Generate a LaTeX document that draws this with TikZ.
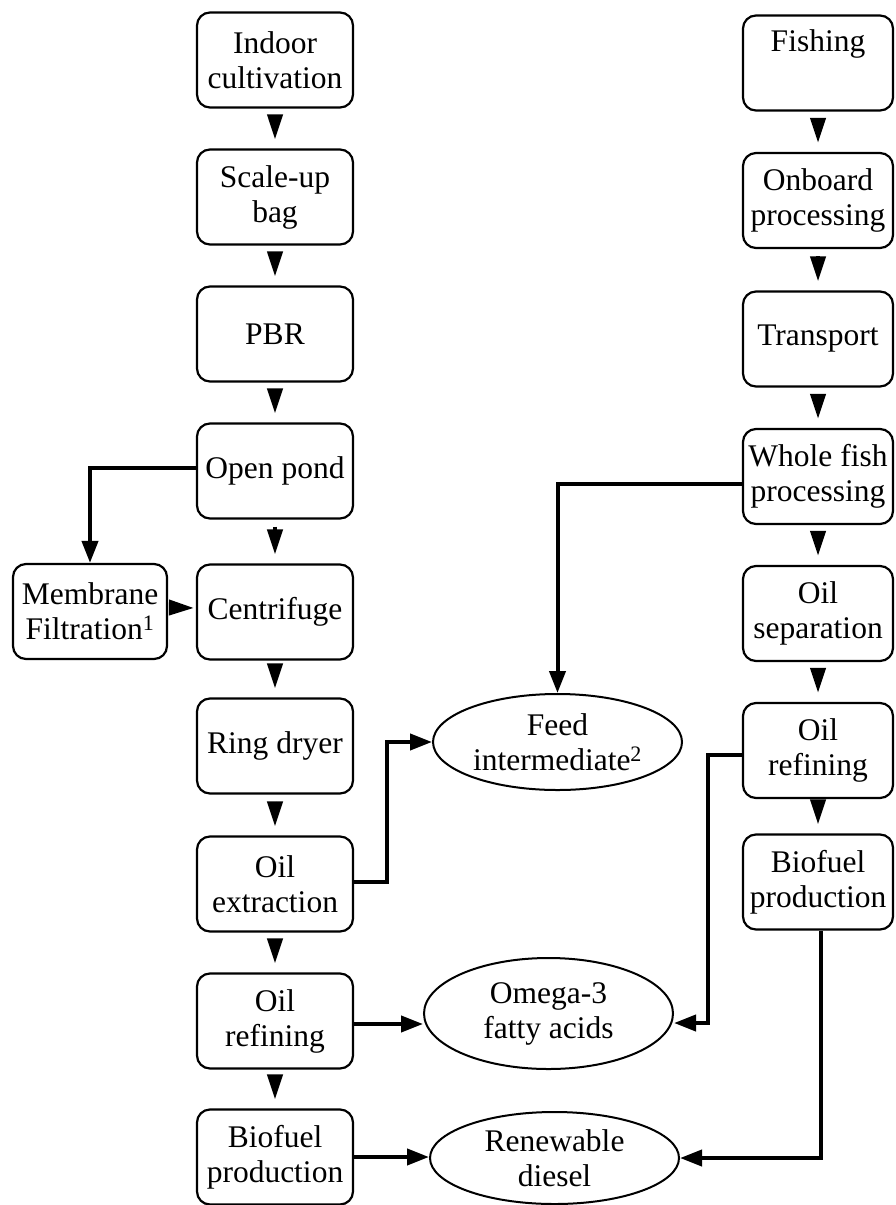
\documentclass[tikz,border=0pt]{standalone}
\usepackage{fontspec}
\setmainfont{Liberation Serif}
\usetikzlibrary{arrows.meta,shapes.geometric}
\begin{document}
\begin{tikzpicture}[x=1pt,y=-1pt,
  every node/.style={font=\fontsize{31.5}{35}\selectfont, align=center, inner sep=0pt},
  stage/.style={draw, line width=2.2pt, rounded corners=13pt, minimum height=95pt},
  leftstage/.style={stage, minimum width=156pt},
  rightstage/.style={stage, minimum width=150pt},
  product/.style={draw, line width=2pt, ellipse, minimum width=249pt},
  flow/.style={line width=4pt, -{Triangle[length=25pt,width=15pt]}, shorten <=7pt, shorten >=9pt},
  link/.style={line width=4pt, -{Triangle[length=22pt,width=16pt]}}
]
\useasboundingbox (0,0) rectangle (895,1205);

% microalgae route
\node[leftstage] (indoor)  at (275,60)   {Indoor\\cultivation};
\node[leftstage] (scaleup) at (275,197)  {Scale-up\\bag};
\node[leftstage] (pbr)     at (275,334)  {PBR};
\node[leftstage] (pond)    at (275,471)  {Open pond};
\node[leftstage] (centri)  at (275,612)  {Centrifuge};
\node[leftstage] (dryer)   at (275,746)  {Ring dryer};
\node[leftstage] (extract) at (275,884)  {Oil\\extraction};
\node[leftstage] (refineL) at (275,1021) {Oil\\refining};
\node[leftstage] (bioL)    at (275,1157) {Biofuel\\production};
\node[stage, minimum width=154pt] (membrane) at (90,611.5) {Membrane\\Filtration\textsuperscript{1}};

% fishery route
\node[rightstage] (fishing)   at (818,63)    {Fishing\\\strut};
\node[rightstage] (onboard)   at (818,200.5) {Onboard\\processing};
\node[rightstage] (transport) at (818,339)   {Transport};
\node[rightstage] (whole)     at (818,476.5) {Whole fish\\processing};
\node[rightstage] (separate)  at (818,613.5) {Oil\\separation};
\node[rightstage] (refineR)   at (818,750.5) {Oil\\refining};
\node[rightstage] (bioR)      at (818,882)   {Biofuel\\production};

% products
\node[product, minimum height=96pt]  (feed)   at (557.5,742)  {Feed\\intermediate\textsuperscript{2}};
\node[product, minimum height=111pt] (omega)  at (548.5,1013.5) {Omega-3\\fatty acids};
\node[product, minimum height=92pt]  (diesel) at (554.5,1158) {Renewable\\diesel};

% process steps
\foreach \a/\b in {indoor/scaleup, scaleup/pbr, pbr/pond, pond/centri, centri/dryer,
                   dryer/extract, extract/refineL, refineL/bioL,
                   fishing/onboard, onboard/transport, transport/whole, whole/separate,
                   separate/refineR, refineR/bioR}
  \draw[flow] (\a.south) -- (\b.north);

% branches and product streams
\draw[link] ([yshift=3pt]pond.west) -| (membrane.north);
\draw[flow, shorten >=2pt, shorten <=2pt] ([yshift=4pt]membrane.east) -- ([yshift=4pt]centri.west);
\draw[link] ([yshift=-7.5pt]whole.west) -| (feed.north);
\coordinate (bendA) at (387,882);
\draw[link] ([yshift=2pt]extract.east) -- (bendA) |- (feed.west);
\draw[link] ([yshift=-3pt]refineL.east) -- ([yshift=-3pt]refineL.east -| omega.west);
\coordinate (bendB) at (708,1023);
\draw[link] ([yshift=-4.5pt]refineR.west) -| (bendB) -- (bendB -| omega.east);
\draw[link] (bioL.east) -- (bioL.east -| diesel.west);
\draw[link] ([xshift=3pt]bioR.south) |- (diesel.east);
\end{tikzpicture}
\end{document}
